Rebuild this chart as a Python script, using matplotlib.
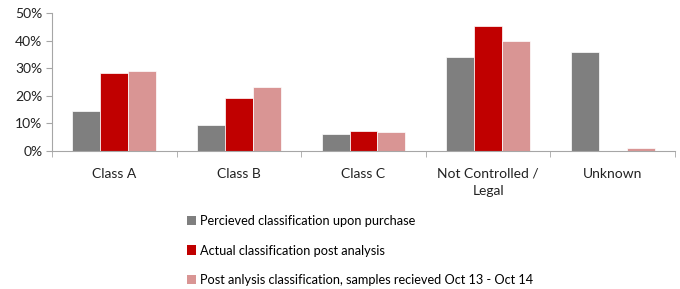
import matplotlib
matplotlib.use("Agg")
import matplotlib.pyplot as plt
import numpy as np
from matplotlib.ticker import PercentFormatter
from matplotlib.patches import Patch

categories = ["Class A", "Class B", "Class C", "Not Controlled /\nLegal", "Unknown"]
perceived = [14.4, 9.6, 6.0, 34.1, 36.0]
actual = [28.2, 19.3, 7.4, 45.3, 0.0]
post = [29.0, 23.1, 6.9, 40.0, 1.1]
series_names = ["Percieved classification upon purchase",
                "Actual classification post analysis",
                "Post anlysis classification, samples recieved Oct 13 - Oct 14"]
colors = ["#7f7f7f", "#c00000", "#d99594"]

plt.rcParams['font.family'] = ['Lato', 'DejaVu Sans']

fig = plt.figure(figsize=(6.8, 2.89), dpi=100)
ax = fig.add_axes([52/680, 1 - 151/289, (675-52)/680, (151-13)/289])

x = np.arange(len(categories))
w = 0.224
for i, (vals, c) in enumerate(zip([perceived, actual, post], colors)):
    ax.bar(x + (i - 1) * w, vals, width=w, color=c, edgecolor="white", linewidth=0.5, label=series_names[i])

ax.set_xlim(-0.5, len(categories) - 0.5)
ax.set_ylim(0, 50)
ax.set_yticks([0, 10, 20, 30, 40, 50])
ax.yaxis.set_major_formatter(PercentFormatter(decimals=0))
ax.set_xticks(x)
ax.set_xticklabels(categories, fontsize=10, color="#222222", linespacing=1.55)
ax.set_xticks(np.arange(-0.5, len(categories)), minor=True)
ax.tick_params(axis="x", which="major", length=0, pad=12)
ax.tick_params(axis="x", which="minor", length=4, color="#a6a6a6", direction="out")
ax.tick_params(axis="y", length=4, color="#a6a6a6", labelsize=10, labelcolor="#222222", pad=3)
for s in ["top", "right"]:
    ax.spines[s].set_visible(False)
ax.spines["left"].set_color("#a6a6a6")
ax.spines["bottom"].set_color("#a6a6a6")

handles = [Patch(facecolor=c, edgecolor="none") for c in colors]
fig.legend(handles, series_names, loc="upper left", bbox_to_anchor=(187/680, 1 - 215/289),
           frameon=False, fontsize=9.2, handlelength=0.7, handleheight=0.75,
           handletextpad=0.3, labelspacing=1.37, borderpad=0, borderaxespad=0)

fig.savefig("out.png", dpi=100)
